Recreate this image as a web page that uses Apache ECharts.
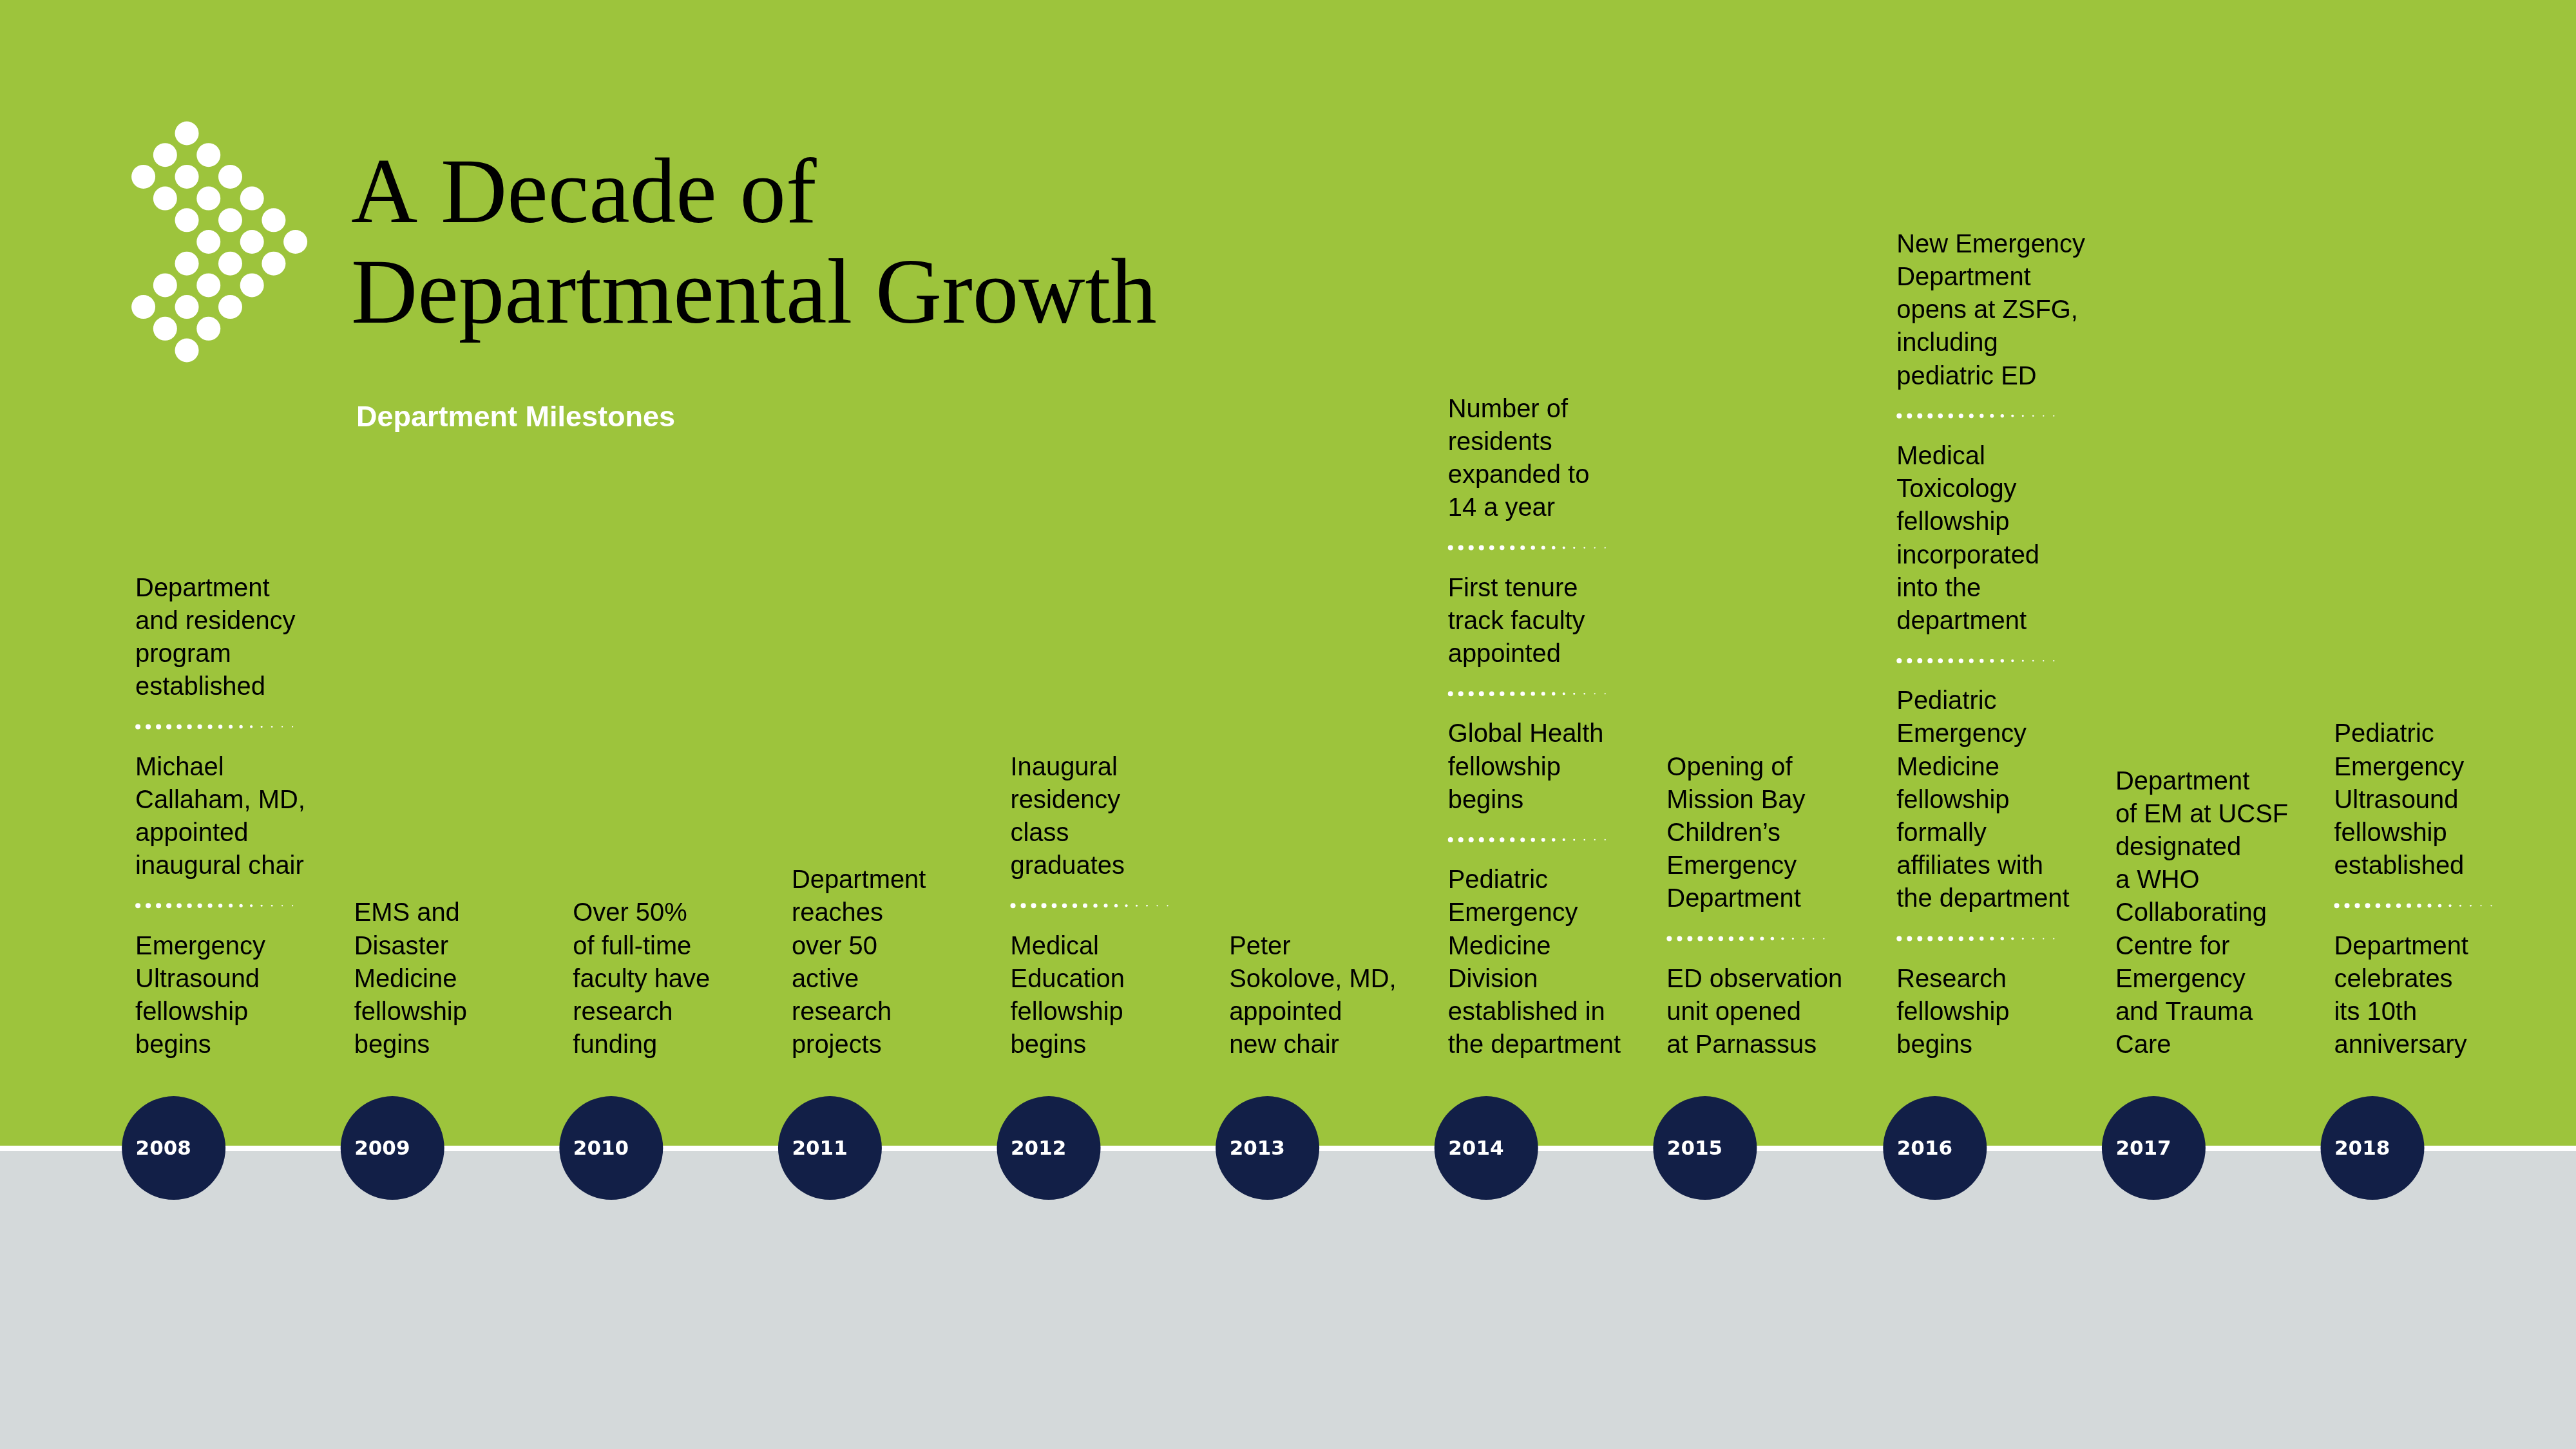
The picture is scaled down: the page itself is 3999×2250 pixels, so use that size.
<!doctype html>
<html>
    <head>
        <meta charset="utf-8">
        <style>html, body { margin: 0; height: 100%; } #main { width: 3999px; height: 2250px; }</style>
    </head>
    <body>
        <div id="main"></div>
        <script src="https://cdn.jsdelivr.net/npm/echarts@6/dist/echarts.min.js"></script>
        <script>
            var titleText = 'A Decade of\nDepartmental Growth';
            var subtitleText = 'Department Milestones';

            var years = [2008, 2009, 2010, 2011, 2012, 2013, 2014, 2015, 2016, 2017, 2018];

            // milestones per year, top of the stack first, one entry per printed line
            var milestones2008 = [
                ['Department', 'and residency', 'program', 'established'],
                ['Michael', 'Callaham, MD,', 'appointed', 'inaugural chair'],
                ['Emergency', 'Ultrasound', 'fellowship', 'begins']
            ];
            var milestones2009 = [['EMS and', 'Disaster', 'Medicine', 'fellowship', 'begins']];
            var milestones2010 = [['Over 50%', 'of full-time', 'faculty have', 'research', 'funding']];
            var milestones2011 = [['Department', 'reaches', 'over 50', 'active', 'research', 'projects']];
            var milestones2012 = [
                ['Inaugural', 'residency', 'class', 'graduates'],
                ['Medical', 'Education', 'fellowship', 'begins']
            ];
            var milestones2013 = [['Peter', 'Sokolove, MD,', 'appointed', 'new chair']];
            var milestones2014 = [
                ['Number of', 'residents', 'expanded to', '14 a year'],
                ['First tenure', 'track faculty', 'appointed'],
                ['Global Health', 'fellowship', 'begins'],
                ['Pediatric', 'Emergency', 'Medicine', 'Division', 'established in', 'the department']
            ];
            var milestones2015 = [
                ['Opening of', 'Mission Bay', 'Children\u2019s', 'Emergency', 'Department'],
                ['ED observation', 'unit opened', 'at Parnassus']
            ];
            var milestones2016 = [
                ['New Emergency', 'Department', 'opens at ZSFG,', 'including', 'pediatric ED'],
                ['Medical', 'Toxicology', 'fellowship', 'incorporated', 'into the', 'department'],
                ['Pediatric', 'Emergency', 'Medicine', 'fellowship', 'formally', 'affiliates with', 'the department'],
                ['Research', 'fellowship', 'begins']
            ];
            var milestones2017 = [['Department', 'of EM at UCSF', 'designated', 'a WHO', 'Collaborating', 'Centre for', 'Emergency', 'and Trauma', 'Care']];
            var milestones2018 = [
                ['Pediatric', 'Emergency', 'Ultrasound', 'fellowship', 'established'],
                ['Department', 'celebrates', 'its 10th', 'anniversary']
            ];
            var allMilestones = [
                milestones2008, milestones2009, milestones2010, milestones2011, milestones2012, milestones2013,
                milestones2014, milestones2015, milestones2016, milestones2017, milestones2018
            ];

            // logo dots, the columns that are filled in each row
            var logoRows = [[2], [1, 3], [0, 2, 4], [1, 3, 5], [2, 4, 6], [3, 5, 7], [2, 4, 6], [1, 3, 5], [0, 2, 4], [1, 3], [2]];

            var GREEN = '#9dc43c', GREY = '#d4d9da', NAVY = '#121f47', WHITE = '#ffffff';
            var LINE_Y = 1782.6;
            var LINE_HEIGHT = 51.2;
            var BLOCK_GAP = 124.3;
            var TEXT_LEFT = -59.5;
            var LAST_LINE = -158.5;
            var FADE = [8, 8, 8, 8, 7.6, 7.4, 7.2, 7, 6.4, 6, 5.4, 4.2, 3, 2.6, 2.2, 2.2];

            // the 2016 column sits a little further right than the regular step
            function slotOf(year) {
                return year >= 2016 ? year + 0.051 : year;
            }

            function renderStack(params, api) {
                var stack = allMilestones[params.dataIndex];
                var origin = api.coord([api.value(0), 0]);
                var children = [];
                var y = origin[1] + LAST_LINE;
                for (var b = stack.length - 1; b >= 0; b--) {
                    var lines = stack[b];
                    for (var l = lines.length - 1; l >= 0; l--) {
                        children.push({
                            type: 'text',
                            style: {
                                text: lines[l],
                                x: origin[0] + TEXT_LEFT,
                                y: y,
                                fill: '#000',
                                font: '39.9px "Liberation Sans", sans-serif',
                                align: 'left',
                                verticalAlign: 'middle'
                            }
                        });
                        if (l > 0) y -= LINE_HEIGHT;
                    }
                    if (b > 0) {
                        var sepY = y - BLOCK_GAP / 2 - 2;
                        FADE.forEach(function (size, i) {
                            children.push({
                                type: 'circle',
                                shape: { cx: origin[0] + TEXT_LEFT + 4 + i * 16, cy: sepY, r: size / 2 },
                                style: { fill: WHITE }
                            });
                        });
                        y -= BLOCK_GAP;
                    }
                }
                return { type: 'group', children: children };
            }

            var logoData = [];
            logoRows.forEach(function (cols, row) {
                cols.forEach(function (col) { logoData.push([col, row]); });
            });

            var chart = echarts.init(document.getElementById('main'));
            chart.setOption({
                animation: false,
                backgroundColor: GREY,
                graphic: [
                    { type: 'rect', shape: { x: 0, y: 0, width: 3999, height: 1779 }, style: { fill: GREEN } },
                    { type: 'rect', shape: { x: 0, y: 1779, width: 3999, height: 8 }, style: { fill: WHITE } }
                ],
                title: [{
                    text: titleText,
                    left: 540,
                    top: 224,
                    textStyle: { fontFamily: '"Liberation Serif", serif', fontWeight: 'normal', fontSize: 143, lineHeight: 156, color: '#000' }
                }, {
                    text: subtitleText,
                    left: 548,
                    top: 622,
                    textStyle: { fontFamily: '"Liberation Sans", sans-serif', fontWeight: 'bold', fontSize: 45, color: WHITE }
                }],
                grid: [
                    { left: 269.6, right: 316, top: 1000, bottom: 2250 - LINE_Y },
                    { left: 222.6, width: 236, top: 207, height: 337 }
                ],
                xAxis: [
                    { gridIndex: 0, type: 'value', min: 2008, max: 2018.051, show: false },
                    { gridIndex: 1, type: 'value', min: 0, max: 7, show: false }
                ],
                yAxis: [
                    { gridIndex: 0, type: 'value', min: 0, max: 1, show: false },
                    { gridIndex: 1, type: 'value', min: 0, max: 10, inverse: true, show: false }
                ],
                series: [{
                    type: 'scatter',
                    clip: false,
                    silent: true,
                    symbolSize: 161,
                    itemStyle: { color: NAVY, opacity: 1 },
                    data: years.map(function (y) { return [slotOf(y), 0, y]; }),
                    label: {
                        show: true,
                        position: 'inside',
                        align: 'left',
                        offset: [-59, 2],
                        formatter: function (p) { return String(p.value[2]); },
                        color: WHITE,
                        fontFamily: '"DejaVu Sans", sans-serif',
                        fontWeight: 'bold',
                        fontSize: 31
                    }
                }, {
                    type: 'custom',
                    silent: true,
                    clip: false,
                    renderItem: renderStack,
                    data: years.map(function (y) { return [slotOf(y), 0]; })
                }, {
                    type: 'scatter',
                    xAxisIndex: 1,
                    yAxisIndex: 1,
                    clip: false,
                    silent: true,
                    symbolSize: 37,
                    itemStyle: { color: WHITE, opacity: 1 },
                    data: logoData
                }]
            });

            window.onresize = chart.resize;
        </script>
    </body>
</html>
